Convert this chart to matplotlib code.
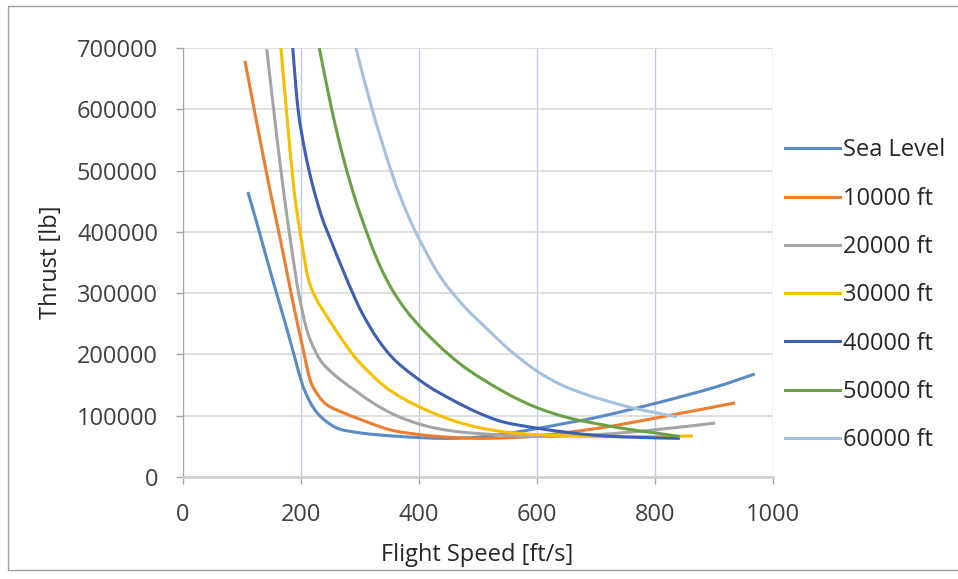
import matplotlib
matplotlib.use("Agg")
import numpy as np
import matplotlib.pyplot as plt
from matplotlib.patches import Rectangle, PathPatch
from matplotlib.path import Path

# -- DATA
LABELS = ["Sea Level", "10000 ft", "20000 ft", "30000 ft", "40000 ft", "50000 ft", "60000 ft"]
COLORS = ["#5B8BC6", "#ED7D31", "#A5A5A5", "#F7BF00", "#3F5FB4", "#6BA144", "#A6C0E0"]

sea_v = [110, 125, 144, 160, 173, 188, 202, 215, 228, 245, 266, 300, 334, 370, 407, 450, 500, 550, 600, 650, 700, 800, 900, 969]
sea_t = [465000, 415000, 349000, 295000, 252000, 200000, 152000, 123000, 104000, 89000, 78000, 72000, 68500, 66000,
         64000, 63000, 65000, 71000, 79000, 88000, 97000, 120000, 146000, 168000]

ft10_v = [105, 125, 147, 164, 177, 190, 201, 215, 228, 245, 274, 295, 351, 407, 450, 500, 550, 600, 707, 800, 936]
ft10_t = [679000, 578000, 470000, 392000, 330000, 268000, 220000, 160000, 135000, 117000, 104000, 96000, 77000,
          68500, 65000, 63000, 64000, 67000, 80000, 96000, 121000]

ft20_v = [142, 156, 170, 183, 196, 210, 222, 237, 265, 295, 320, 351, 380, 413, 450, 500, 600, 700, 800, 902]
ft20_t = [698000, 580000, 470000, 380000, 300000, 240000, 210000, 185000, 160000, 139000, 122000, 105000, 93000,
          83000, 76000, 71000, 66000, 69000, 77000, 88000]

ft30_v = [166, 177, 188, 200, 212, 225, 240, 260, 280, 300, 339, 375, 413, 458, 500, 542, 600, 700, 800, 864]
ft30_t = [700000, 580000, 470000, 390000, 325000, 292000, 268000, 238000, 210000, 186000, 150000, 127000, 109000,
          92000, 81000, 74000, 69000, 66000, 66000, 67000]

ft40_v = [186, 195, 207, 220, 235, 249, 270, 290, 305, 330, 362, 413, 458, 500, 542, 598, 650, 700, 760, 842]
ft40_t = [700000, 600000, 530000, 475000, 425000, 390000, 340000, 295000, 265000, 225000, 188000, 150000, 125000,
          105000, 90000, 80000, 73000, 68000, 65000, 63000]

ft50_v = [231, 252, 270, 286, 300, 329, 360, 402, 469, 542, 598, 656, 741, 800, 842]
ft50_t = [700000, 600000, 527000, 472000, 430000, 355000, 297000, 245000, 185000, 140000, 114000, 96000, 80000,
          72000, 66000]

ft60_v = [293, 322, 356, 380, 402, 436, 475, 515, 555, 598, 640, 685, 741, 780, 837]
ft60_t = [700000, 595000, 490000, 430000, 385000, 327000, 280000, 242000, 206000, 174000, 151000, 134000, 118000,
          109000, 98000]

SERIES = [(sea_v, sea_t), (ft10_v, ft10_t), (ft20_v, ft20_t), (ft30_v, ft30_t),
          (ft40_v, ft40_t), (ft50_v, ft50_t), (ft60_v, ft60_t)]

X_TICKS = [0, 200, 400, 600, 800, 1000]
Y_TICKS = [0, 100000, 200000, 300000, 400000, 500000, 600000, 700000]


def smoothed(xs, ys):
    # excel style "smoothed line": catmull-rom segments as cubic beziers
    p = np.column_stack([xs, ys]).astype(float)
    n = len(p)
    verts = [p[0]]
    codes = [Path.MOVETO]
    for i in range(n - 1):
        p0 = p[i - 1] if i > 0 else p[i]
        p3 = p[i + 2] if i + 2 < n else p[i + 1]
        verts += [p[i] + (p[i + 1] - p0) / 6, p[i + 1] - (p3 - p[i]) / 6, p[i + 1]]
        codes += [Path.CURVE4] * 3
    return Path(verts, codes)


plt.rcParams["font.family"] = ["Open Sans", "DejaVu Sans"]
FS = 17

fig = plt.figure(figsize=(9.58, 5.79), dpi=100)
ax = fig.add_axes([183 / 958, 1 - 477 / 579, 590 / 958, 429 / 579])

for (v, t), lab, col in zip(SERIES, LABELS, COLORS):
    ax.add_patch(PathPatch(smoothed(v, t), fill=False, edgecolor=col, lw=2.2, capstyle="butt"))
    ax.plot([], [], color=col, lw=2.2, label=lab)

ax.set_xlim(0, 1000)
ax.set_ylim(0, 700000)
ax.set_xticks(X_TICKS)
ax.set_yticks(Y_TICKS)
ax.set_xticklabels([str(x) for x in X_TICKS])
ax.set_yticklabels([str(y) for y in Y_TICKS])

# gridlines like the excel chart
ax.grid(axis="y", color="#D9D9D9", lw=1.2)
ax.grid(axis="x", color="#BCCCE4", lw=1.0)
ax.set_axisbelow(True)

for s in ["top", "right"]:
    ax.spines[s].set_visible(False)
ax.spines["left"].set_color("#A6A6A6")
ax.spines["bottom"].set_color("#D0D0D0")
ax.spines["bottom"].set_linewidth(2)
ax.tick_params(axis="both", labelsize=FS, length=5, width=1)
ax.tick_params(axis="x", colors="#A6A6A6", labelcolor="#404040", pad=14)
ax.tick_params(axis="y", colors="#A6A6A6", labelcolor="#404040", pad=13)

ax.set_xlabel("Flight Speed [ft/s]", fontsize=FS, color="#262626")
ax.set_ylabel("Thrust [lb]", fontsize=FS, color="#262626")
ax.xaxis.set_label_coords(0.498, -0.154)
ax.yaxis.set_label_coords(-0.203, 0.5)

leg = ax.legend(loc="upper left", bbox_to_anchor=(776 / 958, 1 - 129 / 579),
                bbox_transform=fig.transFigure, frameon=False, fontsize=FS,
                handlelength=2.3, handletextpad=0.12, labelspacing=1.03,
                borderaxespad=0)
for t in leg.get_texts():
    t.set_color("#262626")

# chart border
fig.patches.append(Rectangle((8 / 958, 1 - 570 / 579), 1.0, 564 / 579, transform=fig.transFigure,
                             fill=False, edgecolor="#A0A0A0", lw=1.0))

fig.savefig("out.png", dpi=100)
